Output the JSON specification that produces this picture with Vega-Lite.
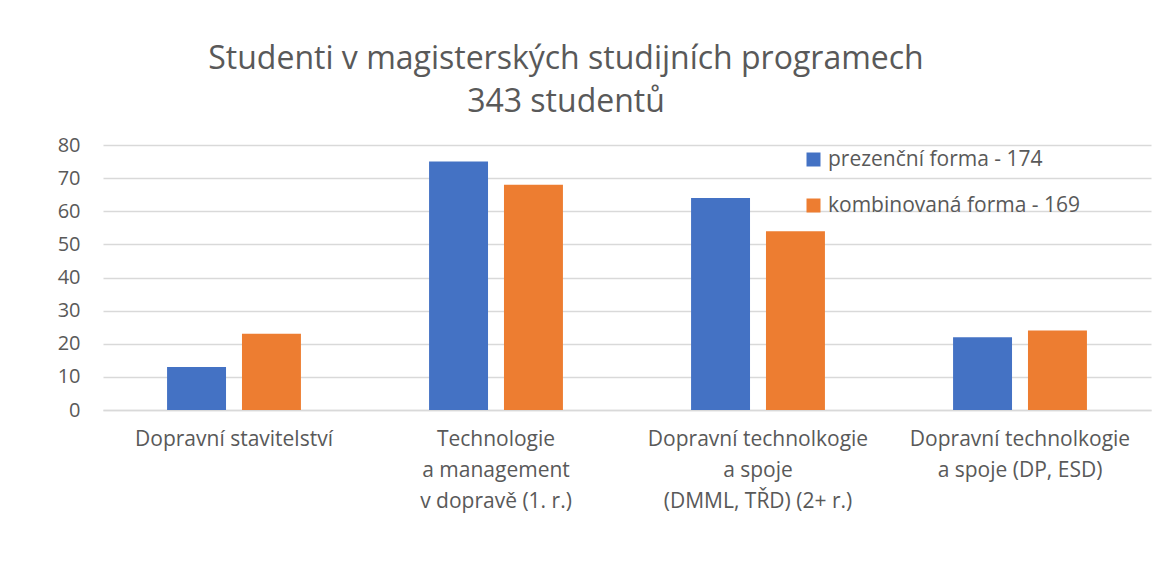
{
  "$schema": "https://vega.github.io/schema/vega-lite/v6.json",
  "autosize": {"type": "none"},
  "width": 1048,
  "height": 265,
  "padding": {"left": 103, "top": 145, "right": 13, "bottom": 171},
  "background": "white",
  "title": {
    "text": ["Studenti v magisterských studijních programech", "343 studentů"],
    "fontSize": 32,
    "font": "Open Sans",
    "fontWeight": "normal",
    "color": "#595959",
    "lineHeight": 43,
    "anchor": "middle",
    "dx": -61,
    "offset": 16
  },
  "data": {
    "values": [
      {"cat": "Dopravní stavitelství", "forma": "prezenční forma - 174", "n": 13},
      {"cat": "Dopravní stavitelství", "forma": "kombinovaná forma - 169", "n": 23},
      {"cat": "Technologie|a management|v dopravě (1. r.)", "forma": "prezenční forma - 174", "n": 75},
      {"cat": "Technologie|a management|v dopravě (1. r.)", "forma": "kombinovaná forma - 169", "n": 68},
      {"cat": "Dopravní technolkogie|a spoje|(DMML, TŘD) (2+ r.)", "forma": "prezenční forma - 174", "n": 64},
      {"cat": "Dopravní technolkogie|a spoje|(DMML, TŘD) (2+ r.)", "forma": "kombinovaná forma - 169", "n": 54},
      {"cat": "Dopravní technolkogie|a spoje (DP, ESD)", "forma": "prezenční forma - 174", "n": 22},
      {"cat": "Dopravní technolkogie|a spoje (DP, ESD)", "forma": "kombinovaná forma - 169", "n": 24}
    ]
  },
  "mark": {"type": "bar"},
  "encoding": {
    "x": {
      "field": "cat",
      "type": "nominal",
      "sort": null,
      "title": null,
      "scale": {"paddingInner": 0.489, "paddingOuter": 0.2445},
      "axis": {
        "labelExpr": "split(datum.label, '|')",
        "labelAngle": 0,
        "labelFont": "Open Sans",
        "labelFontSize": 21,
        "labelColor": "#595959",
        "labelLineHeight": 31,
        "labelPadding": 18,
        "labelLimit": 0,
        "ticks": false,
        "domain": true,
        "domainColor": "#D9D9D9",
        "domainWidth": 1.5
      }
    },
    "xOffset": {
      "field": "forma",
      "type": "nominal",
      "sort": ["prezenční forma - 174", "kombinovaná forma - 169"],
      "scale": {"paddingInner": 0.213, "paddingOuter": 0}
    },
    "y": {
      "field": "n",
      "type": "quantitative",
      "title": null,
      "scale": {"domain": [0, 80], "nice": false},
      "axis": {
        "values": [0, 10, 20, 30, 40, 50, 60, 70, 80],
        "domain": false,
        "ticks": false,
        "labelFont": "Open Sans",
        "labelFontSize": 20,
        "labelColor": "#595959",
        "labelPadding": 23,
        "gridColor": "#D9D9D9",
        "gridWidth": 1.5
      }
    },
    "color": {
      "field": "forma",
      "type": "nominal",
      "sort": ["prezenční forma - 174", "kombinovaná forma - 169"],
      "scale": {"domain": ["prezenční forma - 174", "kombinovaná forma - 169"], "range": ["#4472C4", "#ED7D31"]},
      "legend": {
        "title": null,
        "orient": "none",
        "legendX": 700,
        "legendY": 4,
        "symbolType": "square",
        "symbolSize": 196,
        "symbolStrokeWidth": 0,
        "labelFont": "Open Sans",
        "labelFontSize": 21,
        "labelColor": "#595959",
        "labelOffset": 4,
        "rowPadding": 24,
        "labelLimit": 0
      }
    }
  },
  "config": {
    "view": {"stroke": null}
  }
}
